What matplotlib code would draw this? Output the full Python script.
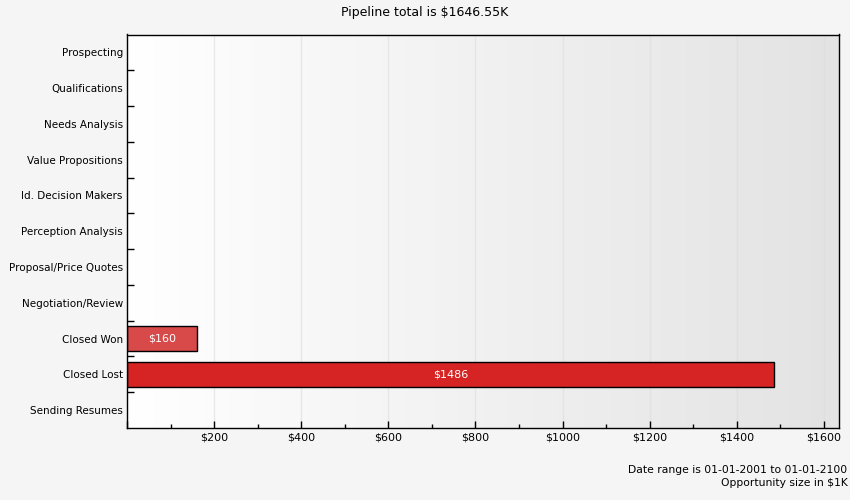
import numpy as np
import matplotlib
matplotlib.use('Agg')
import matplotlib.pyplot as plt
from matplotlib.ticker import MultipleLocator, FuncFormatter

# pipeline stages, top to bottom
stages = ['Prospecting', 'Qualifications', 'Needs Analysis', 'Value Propositions',
          'Id. Decision Makers', 'Perception Analysis', 'Proposal/Price Quotes',
          'Negotiation/Review', 'Closed Won', 'Closed Lost', 'Sending Resumes']
amounts = [0, 0, 0, 0, 0, 0, 0, 0, 160, 1486, 0]
bar_colors = ['#d84a4a', '#d84a4a', '#d84a4a', '#d84a4a', '#d84a4a', '#d84a4a',
              '#d84a4a', '#d84a4a', '#d84a4a', '#d62424', '#d84a4a']
pipeline_total = 1646.55

fig = plt.figure(figsize=(8.5, 5), dpi=100, facecolor='#f5f5f5')
ax = fig.add_axes([0.1494, 0.144, 0.8376, 0.787])

n = len(stages)
ypos = np.arange(n)
xmax = max(amounts) * 1.1

# gradient background, white to light grey
grad = np.linspace(0, 1, 256).reshape(1, -1)
ax.imshow(grad, cmap=matplotlib.colors.LinearSegmentedColormap.from_list('bg', ['#ffffff', '#e3e3e3']),
          extent=[0, xmax, n - 0.5, -0.5], aspect='auto', zorder=0)

for y, v, c in zip(ypos, amounts, bar_colors):
    if v <= 0:
        continue
    ax.barh(y, v, height=0.68, color=c, edgecolor='black', linewidth=1, zorder=2)
    ax.text(v / 2, y, f'${v:.0f}', color='white', ha='center', va='center', fontsize=8, zorder=4)

ax.set_xlim(0, xmax)
ax.set_ylim(n - 0.5, -0.5)

ax.xaxis.set_major_locator(MultipleLocator(200))
ax.xaxis.set_minor_locator(MultipleLocator(100))
ax.xaxis.set_major_formatter(FuncFormatter(lambda v, p: '' if v == 0 else f'${v:.0f}'))
ax.tick_params(axis='x', which='major', direction='in', length=5, width=1, labelsize=8)
ax.tick_params(axis='x', which='minor', direction='in', length=3, width=1)
ax.grid(axis='x', which='major', color='#dddddd', alpha=0.6, linewidth=1, zorder=3)

# labels centred in rows, ticks on row boundaries
ax.set_yticks(ypos)
ax.set_yticklabels(stages, fontsize=7.5)
ax.tick_params(axis='y', which='major', length=0, pad=3)
ax.set_yticks(np.arange(0.5, n - 0.5, 1), minor=True)
ax.tick_params(axis='y', which='minor', direction='in', length=5, width=1)

for s in ax.spines.values():
    s.set_color('black')
    s.set_linewidth(1)

fig.text(0.5, 0.975, f'Pipeline total is ${pipeline_total}K', ha='center', va='center', fontsize=9)
fig.text(0.997, 0.06, 'Date range is 01-01-2001 to 01-01-2100', ha='right', va='center', fontsize=7.75)
fig.text(0.997, 0.034, 'Opportunity size in $1K', ha='right', va='center', fontsize=7.75)

fig.savefig('out.png', dpi=100, facecolor=fig.get_facecolor())
